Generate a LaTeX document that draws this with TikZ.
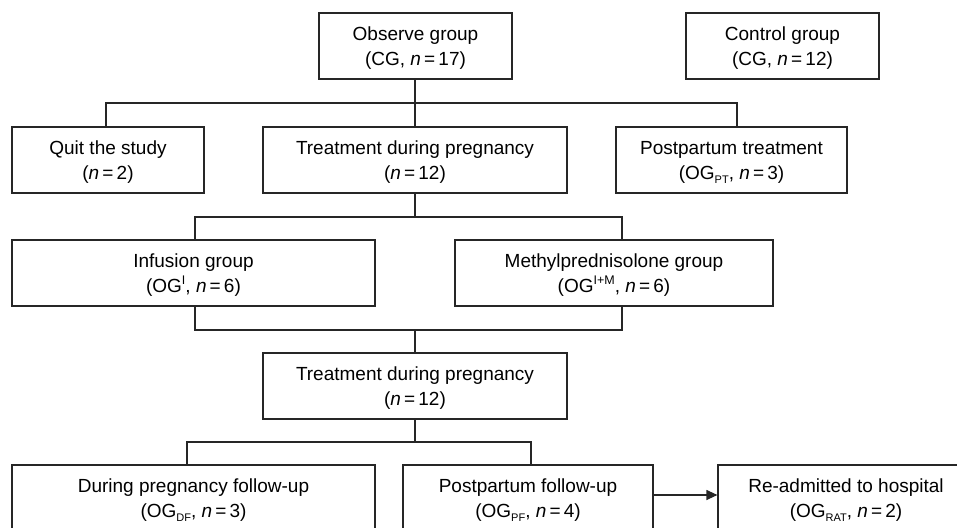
\documentclass[tikz,border=0pt]{standalone}
\usepackage{fontspec}
\setmainfont{Liberation Sans}
\usetikzlibrary{arrows.meta}
\newcommand\mysub[1]{\raisebox{-0.45ex}{\fontsize{11}{11}\selectfont #1}}
\newcommand\mysup[1]{\raisebox{0.75ex}{\fontsize{12.5}{12.5}\selectfont #1}}
\newcommand\eqn{\,=\,}
\begin{document}
\begin{tikzpicture}[x=1pt,y=-1pt,
  box/.style={draw=black!85, line width=1.2pt, rectangle, align=center, inner sep=0pt,
    font=\fontsize{19}{25}\selectfont, minimum height=66pt, text depth=-3.5pt},
  conn/.style={draw=black!85, line width=1.2pt}]
\useasboundingbox (0,0) rectangle (957,527);
\clip (0,0) rectangle (957,527);
% row 1
\node[box, minimum width=193pt] (obs) at (415.5,46) {Observe group\\(CG, \textit{n}\eqn17)};
\node[box, minimum width=193pt] (ctrl) at (782.5,46) {Control group\\(CG, \textit{n}\eqn12)};
% row 2
\node[box, minimum width=192pt] (quit) at (108,160) {Quit the study\\(\textit{n}\eqn2)};
\node[box, minimum width=304pt] (treat) at (415,160) {Treatment during pregnancy\\(\textit{n}\eqn12)};
\node[box, minimum width=231pt] (post) at (731.5,160) {Postpartum treatment\\(OG\mysub{PT}, \textit{n}\eqn3)};
% row 3
\node[box, minimum width=363pt] (inf) at (193.5,273) {Infusion group\\(OG\mysup{I}, \textit{n}\eqn6)};
\node[box, minimum width=318pt] (meth) at (614,273) {Methylprednisolone group\\(OG\mysup{I+M}, \textit{n}\eqn6)};
% row 4
\node[box, minimum width=304pt] (treat2) at (415,386) {Treatment during pregnancy\\(\textit{n}\eqn12)};
% row 5
\node[box, minimum width=363pt] (dur) at (193.5,498) {During pregnancy follow-up\\(OG\mysub{DF}, \textit{n}\eqn3)};
\node[box, minimum width=250pt] (pf) at (528,498) {Postpartum follow-up\\(OG\mysub{PF}, \textit{n}\eqn4)};
\node[box, minimum width=256pt] (readm) at (846,498) {Re-admitted to hospital\\(OG\mysub{RAT}, \textit{n}\eqn2)};
% bus coordinates
\coordinate (b1) at (0,103);
\coordinate (b2) at (0,217);
\coordinate (b3) at (0,330);
\coordinate (b4) at (0,442);
% connectors
\draw[conn] (treat.north |- obs.south) -- (treat.north);
\draw[conn] ([xshift=-2pt]quit.north) |- ([xshift=5.5pt]post.north |- b1) -- ([xshift=5.5pt]post.north);
\draw[conn] (treat.south) -- (treat.south |- b2);
\draw[conn] ([xshift=1.5pt]inf.north) |- ([xshift=8pt]meth.north |- b2) -- ([xshift=8pt]meth.north);
\draw[conn] ([xshift=1.5pt]inf.south) |- ([xshift=8pt]meth.south |- b3) -- ([xshift=8pt]meth.south);
\draw[conn] (treat2.north |- b3) -- (treat2.north);
\draw[conn] (treat2.south) -- (treat2.south |- b4);
\draw[conn] ([xshift=-6.5pt]dur.north) |- ([xshift=3pt]pf.north |- b4) -- ([xshift=3pt]pf.north);
\draw[conn, -{Triangle[length=11pt,width=10pt]}] ([yshift=3pt]pf.east) -- ([yshift=3pt]readm.west);
\end{tikzpicture}
\end{document}
